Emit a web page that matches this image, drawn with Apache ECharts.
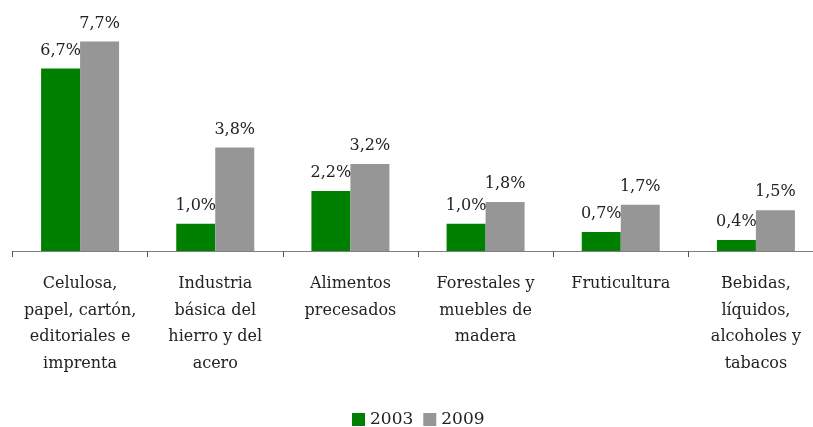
<!DOCTYPE html>
<html>
<head>
<meta charset="utf-8">
<script src="https://cdn.jsdelivr.net/npm/echarts@6/dist/echarts.min.js"></script>
<style>
html, body { margin: 0; padding: 0; background: #fff; }
#chart { width: 813px; height: 427px; }
</style>
</head>
<body>
<div id="chart"></div>
<script>
var categories = [
	'Celulosa,\npapel, cartón,\neditoriales e\nimprenta',
	'Industria\nbásica del\nhierro y del\nacero',
	'Alimentos\nprecesados',
	'Forestales y\nmuebles de\nmadera',
	'Fruticultura',
	'Bebidas,\nlíquidos,\nalcoholes y\ntabacos'
];
var values2003 = [6.7, 1.0, 2.2, 1.0, 0.7, 0.4];
var values2009 = [7.7, 3.8, 3.2, 1.8, 1.7, 1.5];

var fontFamily = "'DejaVu Serif', 'Liberation Serif', serif";
var myChart = echarts.init(document.getElementById('chart'));

var labelOption = {
	show: true,
	position: 'top',
	distance: 10,
	color: '#222',
	fontFamily: fontFamily,
	fontSize: 16,
	formatter: function (p) {
		return p.value.toFixed(1).replace('.', ',') + '%';
	}
};

var option = {
	animation: false,
	textStyle: { fontFamily: fontFamily },
	legend: {
		data: ['2003', '2009'],
		top: 406,
		left: 347,
		itemWidth: 13,
		itemHeight: 13,
		itemGap: 10,
		icon: 'rect',
		textStyle: { color: '#222', fontSize: 17, fontFamily: fontFamily }
	},
	grid: {
		left: 12.5,
		width: 811,
		top: 6,
		bottom: 176,
		containLabel: false,
		outerBoundsMode: 'none'
	},
	xAxis: {
		type: 'category',
		data: categories,
		axisLine: { show: true, lineStyle: { color: '#7f7f7f', width: 1 } },
		axisTick: { show: true, length: 6, lineStyle: { color: '#555' } },
		axisLabel: {
			color: '#222',
			fontSize: 16,
			lineHeight: 26.5,
			margin: 20,
			interval: 0,
			fontFamily: fontFamily
		}
	},
	yAxis: {
		type: 'value',
		min: 0,
		max: 9,
		show: false,
		splitLine: { show: false }
	},
	series: [{
		name: '2003',
		type: 'bar',
		barWidth: 39,
		barGap: '0%',
		itemStyle: { color: '#008000' },
		label: labelOption,
		data: values2003
	}, {
		name: '2009',
		type: 'bar',
		barWidth: 39,
		itemStyle: { color: '#969696' },
		label: labelOption,
		data: values2009
	}]
};

myChart.setOption(option);
</script>
</body>
</html>
